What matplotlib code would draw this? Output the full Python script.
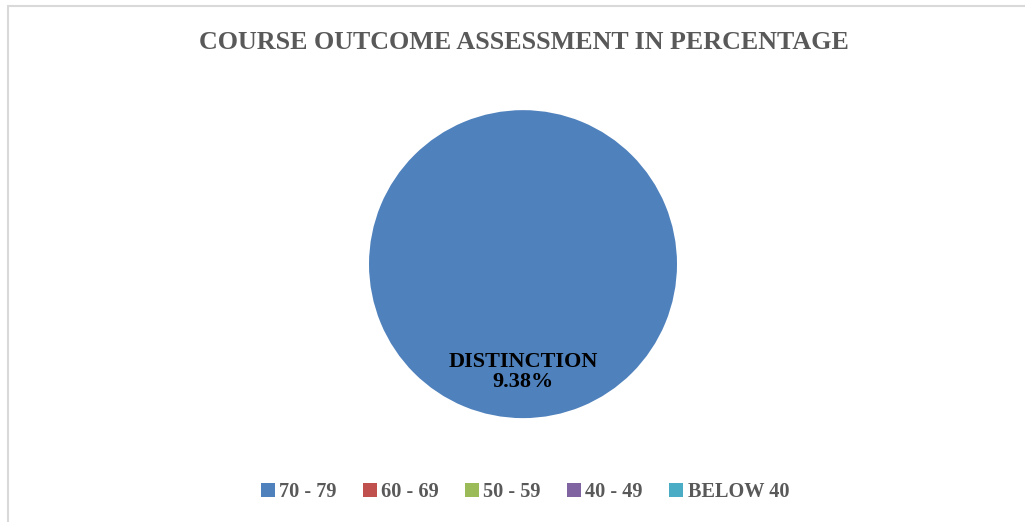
import matplotlib.pyplot as plt
from matplotlib.patches import Rectangle

# data
categories = ["70 - 79", "60 - 69", "50 - 59", "40 - 49", "BELOW 40"]
values = [9.38, 0, 0, 0, 0]
slice_labels = ["DISTINCTION", "", "", "", ""]
colors = ["#4F81BD", "#C0504D", "#9BBB59", "#8064A2", "#4BACC6"]

plt.rcParams["font.family"] = ["Liberation Serif", "DejaVu Serif"]
plt.rcParams["font.weight"] = "bold"

fig = plt.figure(figsize=(10.25, 5.22), dpi=100)
ax = fig.add_axes([0.360, 0.199, 0.3005, 0.590])

label_iter = iter(zip(slice_labels, values))


def fmt_label(pct):
    name, val = next(label_iter)
    if val <= 0:
        return ""
    return f"{name}\n{val:.2f}%"


wedges, texts, autotexts = ax.pie(
    values, colors=colors, startangle=90, counterclock=False,
    autopct=fmt_label, pctdistance=0.70,
    wedgeprops=dict(linewidth=0),
)
for t in autotexts:
    t.set_fontsize(16)
    t.set_fontweight("bold")
    t.set_color("black")
    t.set_linespacing(1.05)
ax.set_xlim(-1, 1)
ax.set_ylim(-1, 1)

fig.text(0.511, 0.918, "COURSE OUTCOME ASSESSMENT IN PERCENTAGE",
         ha="center", va="center", fontsize=18.7, fontweight="bold", color="#595959")

fig.legend(wedges, categories, loc="center", bbox_to_anchor=(0.512, 0.057),
           ncol=5, frameon=False, fontsize=14.6, labelcolor="#595959",
           handlelength=0.7, handleheight=0.7, handletextpad=0.2, columnspacing=1.3)

# chart area border
fig.patches.append(Rectangle((7.5 / 1025, -0.1), 1.2, 1.1 - 5.5 / 522,
                             transform=fig.transFigure, fill=False,
                             edgecolor="#D9D9D9", linewidth=1.5))

fig.savefig("out.png", dpi=100)
